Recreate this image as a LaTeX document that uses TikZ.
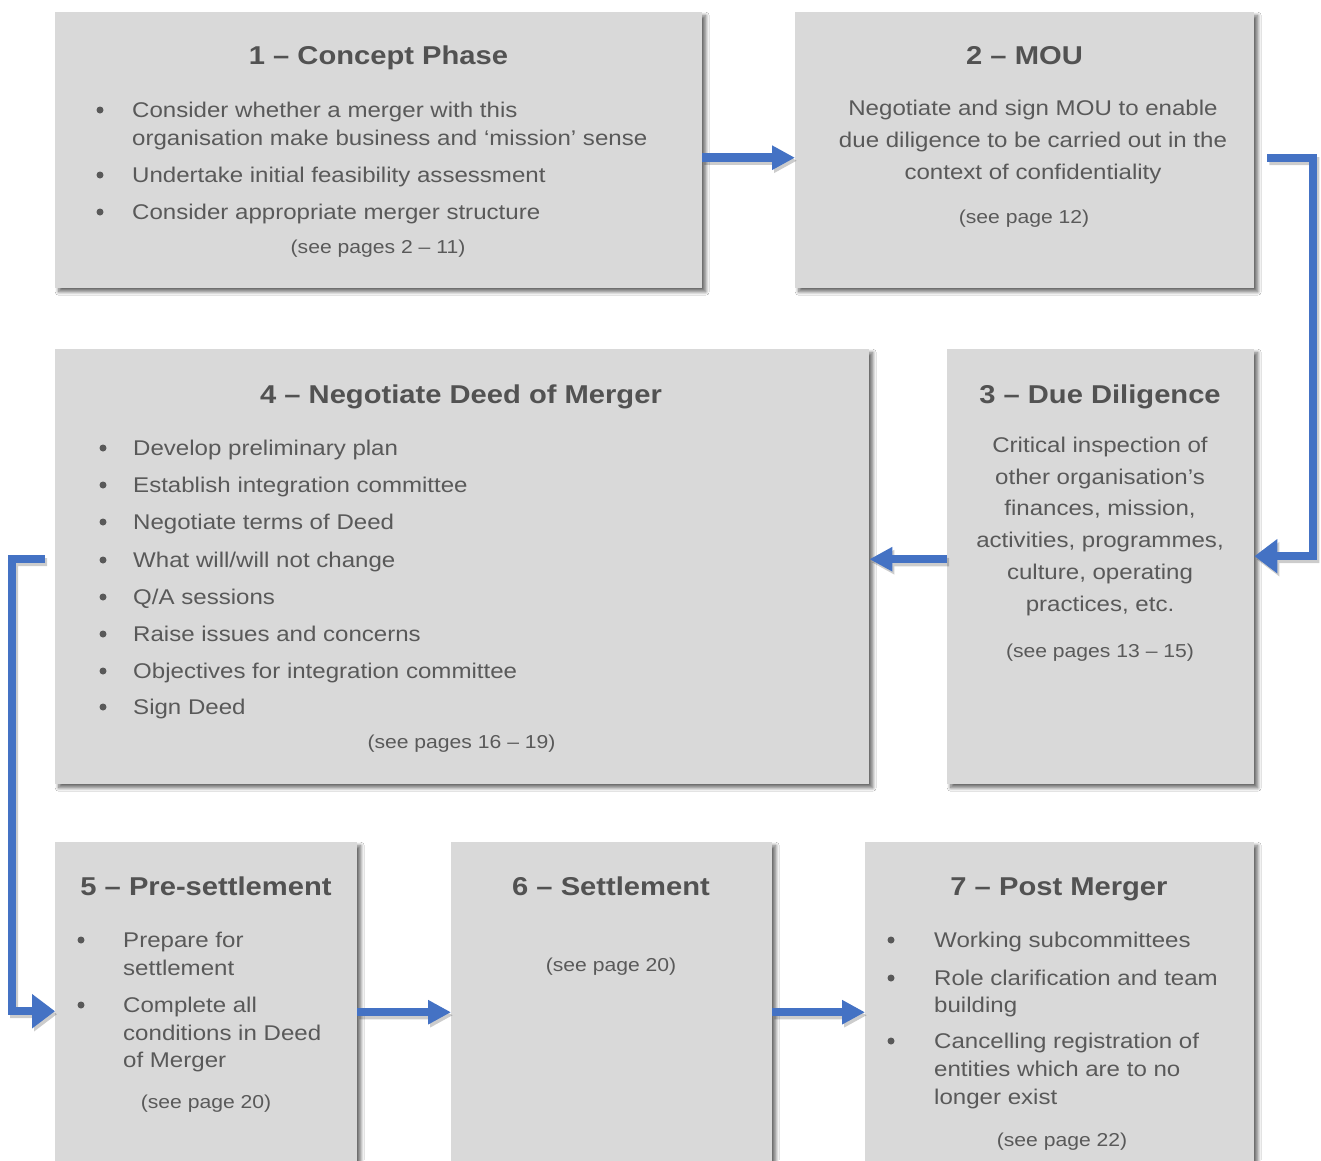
\documentclass[tikz,border=0pt]{standalone}
\usepackage{fontspec}
\setmainfont{Liberation Sans}[FakeStretch=1.13]
\usetikzlibrary{arrows.meta,calc,shadows.blur}

\definecolor{boxgray}{HTML}{D9D9D9}
\definecolor{txtgray}{HTML}{595959}
\definecolor{ttlgray}{HTML}{525252}
\definecolor{flowblue}{HTML}{4472C4}

\newcommand{\ttlfont}{\fontsize{25.8}{30}\selectfont\bfseries}
\newcommand{\bdyfont}{\fontsize{21.3}{26}\selectfont}
\newcommand{\ntfont}{\fontsize{18.7}{22}\selectfont}

\tikzset{
  stagebox/.style={fill=boxgray, draw=none, inner sep=0, anchor=north west,
    blur shadow={shadow xshift=3.5pt, shadow yshift=-3.5pt, shadow blur radius=3.5pt,
      shadow blur steps=10, shadow opacity=60}},
  ttl/.style={text=ttlgray, inner sep=0, anchor=base, font=\ttlfont},
  bodyl/.style={text=txtgray, inner sep=0, anchor=base west, font=\bdyfont},
  bodyc/.style={text=txtgray, inner sep=0, anchor=base, font=\bdyfont},
  note/.style={text=txtgray, inner sep=0, anchor=base, font=\ntfont},
  dot/.style={circle, fill=txtgray, inner sep=0, minimum size=7pt},
  flow/.style={draw=flowblue, line width=8.5pt,
    -{Triangle[length=23pt,width=23pt]}},
  elbow/.style={draw=flowblue, line width=8pt, line join=miter,
    -{Triangle[length=23pt,width=33pt]}},
  flowshade/.style={draw=black, line width=8.5pt,
    -{Triangle[length=23pt,width=23pt]}},
  elbowshade/.style={draw=black, line width=8pt, line join=miter,
    -{Triangle[length=23pt,width=33pt]}},
}

\begin{document}
\begin{tikzpicture}[x=1pt, y=-1pt]
\useasboundingbox (0,0) rectangle (1321,1160);
\clip (0,0) rectangle (1321,1160);
\fill[white] (0,0) rectangle (1321,1160);

% stage boxes
\node[stagebox, minimum width=647pt, minimum height=276pt] (b1) at (55,12) {};
\node[stagebox, minimum width=459pt, minimum height=276pt] (b2) at (795,12) {};
\node[stagebox, minimum width=814pt, minimum height=435pt] (b4) at (55,349) {};
\node[stagebox, minimum width=307pt, minimum height=435pt] (b3) at (947,349) {};
\node[stagebox, minimum width=302pt, minimum height=333pt] (b5) at (55,842) {};
\node[stagebox, minimum width=321pt, minimum height=333pt] (b6) at (451,842) {};
\node[stagebox, minimum width=389pt, minimum height=333pt] (b7) at (865,842) {};

% connector shadows
\begin{scope}[transparency group, opacity=0.2, transform canvas={xshift=2pt, yshift=-3pt}]
  \draw[flowshade] ($(b1.east)+(0,7.5)$) -- ($(b2.west)+(0,7.5)$);
  \draw[elbowshade] ($(b2.east)+(13,8)$) -- ++(46,0) |- ($(b3.east)+(0,-10.5)$);
  \draw[flowshade] ($(b3.west)+(0,-7.5)$) -- ($(b4.east)+(0,-7.5)$);
  \draw[elbowshade] ($(b4.west)+(-10,-7.5)$) -- ++(-33,0) |- ($(b5.west)+(0,2.5)$);
  \draw[flowshade] ($(b5.east)+(0,3.5)$) -- ($(b6.west)+(0,3.5)$);
  \draw[flowshade] ($(b6.east)+(0,3.5)$) -- ($(b7.west)+(0,3.5)$);
\end{scope}

% connectors
\draw[flow] ($(b1.east)+(0,7.5)$) -- ($(b2.west)+(0,7.5)$);
\draw[elbow] ($(b2.east)+(13,8)$) -- ++(46,0) |- ($(b3.east)+(0,-10.5)$);
\draw[flow] ($(b3.west)+(0,-7.5)$) -- ($(b4.east)+(0,-7.5)$);
\draw[elbow] ($(b4.west)+(-10,-7.5)$) -- ++(-33,0) |- ($(b5.west)+(0,2.5)$);
\draw[flow] ($(b5.east)+(0,3.5)$) -- ($(b6.west)+(0,3.5)$);
\draw[flow] ($(b6.east)+(0,3.5)$) -- ($(b7.west)+(0,3.5)$);

% 1 - Concept Phase
\node[ttl] (t1) at (378.5,64) {1 – Concept Phase};
\node[dot] (d1a) at (100,110) {};
\node[bodyl] (p1a) at (132,117) {Consider whether a merger with this};
\node[bodyl] (p1b) at (132,145) {organisation make business and ‘mission’ sense};
\node[dot] (d1b) at (100,175) {};
\node[bodyl] (p1c) at (132,182) {Undertake initial feasibility assessment};
\node[dot] (d1c) at (100,212) {};
\node[bodyl] (p1d) at (132,219) {Consider appropriate merger structure};
\node[note] (n1) at (378,253) {(see pages 2 – 11)};

% 2 - MOU
\node[ttl] (t2) at (1024.5,64) {2 – MOU};
\node[bodyc] (p2a) at (1033,115) {Negotiate and sign MOU to enable};
\node[bodyc] (p2b) at (1033,147) {due diligence to be carried out in the};
\node[bodyc] (p2c) at (1033,179) {context of confidentiality};
\node[note] (n2) at (1024,223) {(see page 12)};

% 3 - Due Diligence
\node[ttl] (t3) at (1100,403) {3 – Due Diligence};
\node[bodyc] (p3a) at (1100,452) {Critical inspection of};
\node[bodyc] (p3b) at (1100,484) {other organisation’s};
\node[bodyc] (p3c) at (1100,515) {finances, mission,};
\node[bodyc] (p3d) at (1100,547) {activities, programmes,};
\node[bodyc] (p3e) at (1100,579) {culture, operating};
\node[bodyc] (p3f) at (1100,611) {practices, etc.};
\node[note] (n3) at (1100,657) {(see pages 13 – 15)};

% 4 - Negotiate Deed of Merger
\node[ttl] (t4) at (461,403) {4 – Negotiate Deed of Merger};
\node[dot] (d4a) at (103,448) {};
\node[bodyl] (p4a) at (133,455) {Develop preliminary plan};
\node[dot] (d4b) at (103,485) {};
\node[bodyl] (p4b) at (133,492) {Establish integration committee};
\node[dot] (d4c) at (103,522) {};
\node[bodyl] (p4c) at (133,529) {Negotiate terms of Deed};
\node[dot] (d4d) at (103,560) {};
\node[bodyl] (p4d) at (133,567) {What will/will not change};
\node[dot] (d4e) at (103,597) {};
\node[bodyl] (p4e) at (133,604) {Q/A sessions};
\node[dot] (d4f) at (103,634) {};
\node[bodyl] (p4f) at (133,641) {Raise issues and concerns};
\node[dot] (d4g) at (103,671) {};
\node[bodyl] (p4g) at (133,678) {Objectives for integration committee};
\node[dot] (d4h) at (103,707) {};
\node[bodyl] (p4h) at (133,714) {Sign Deed};
\node[note] (n4) at (461.5,748) {(see pages 16 – 19)};

% 5 - Pre-settlement
\node[ttl] (t5) at (206,895) {5 – Pre-settlement};
\node[dot] (d5a) at (81,940) {};
\node[bodyl] (p5a) at (123,947) {Prepare for};
\node[bodyl] (p5b) at (123,975) {settlement};
\node[dot] (d5b) at (81,1005) {};
\node[bodyl] (p5c) at (123,1012) {Complete all};
\node[bodyl] (p5d) at (123,1040) {conditions in Deed};
\node[bodyl] (p5e) at (123,1067) {of Merger};
\node[note] (n5) at (206,1108) {(see page 20)};

% 6 - Settlement
\node[ttl] (t6) at (611,895) {6 – Settlement};
\node[note] (n6) at (611,971) {(see page 20)};

% 7 - Post Merger
\node[ttl] (t7) at (1059,895) {7 – Post Merger};
\node[dot] (d7a) at (891,940) {};
\node[bodyl] (p7a) at (934,947) {Working subcommittees};
\node[dot] (d7b) at (891,978) {};
\node[bodyl] (p7b) at (934,985) {Role clarification and team};
\node[bodyl] (p7c) at (934,1012) {building};
\node[dot] (d7c) at (891,1041) {};
\node[bodyl] (p7d) at (934,1048) {Cancelling registration of};
\node[bodyl] (p7e) at (934,1076) {entities which are to no};
\node[bodyl] (p7f) at (934,1104) {longer exist};
\node[note] (n7) at (1062,1146) {(see page 22)};
\end{tikzpicture}
\end{document}
